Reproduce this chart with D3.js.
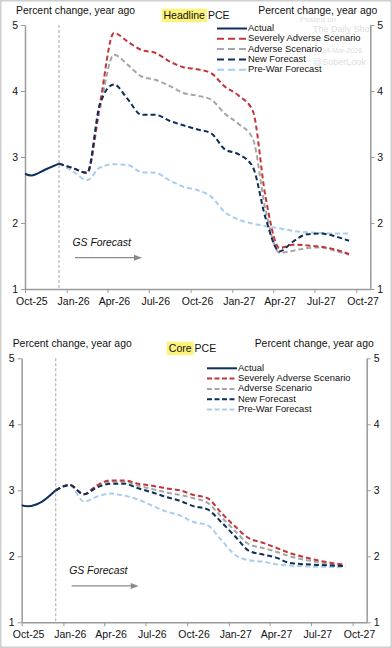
<!DOCTYPE html>
<html><head><meta charset="utf-8">
<script src="https://cdn.jsdelivr.net/npm/d3@7"></script>
<style>
html,body{margin:0;padding:0;background:#fff;}
svg{display:block;font-family:"Liberation Sans",Arial,sans-serif;}
</style></head>
<body><svg id="c" width="392" height="648"></svg>
<script>
// ---------- DATA ----------
const months = ["2025-09","2025-10","2025-11","2025-12","2026-01","2026-02","2026-03","2026-04","2026-05","2026-06","2026-07","2026-08","2026-09","2026-10","2026-11","2026-12","2027-01","2027-02","2027-03","2027-04","2027-05","2027-06","2027-07","2027-08","2027-09"];
const forecastStart = 3; // index of Dec-25
const seriesNames = ["Actual","Severely Adverse Scenario","Adverse Scenario","New Forecast","Pre-War Forecast"];
const xTickMonths = ["2025-10","2026-01","2026-04","2026-07","2026-10","2027-01","2027-04","2027-07","2027-10"];
const yTicks = [1,2,3,4,5];

// Headline PCE
const headlineActual   = [2.80, 2.72, 2.81, 2.90];
const headlineSevere   = [2.90,2.83,2.76,3.80,4.88,4.75,4.62,4.58,4.45,4.36,4.33,4.27,4.07,3.93,3.70,2.40,1.62,1.67,1.66,1.64,1.60,1.53];
const headlineAdverse  = [2.90,2.83,2.76,3.72,4.55,4.40,4.22,4.17,4.08,3.97,3.93,3.87,3.66,3.50,3.28,2.20,1.55,1.58,1.62,1.63,1.58,1.52];
const headlineNew      = [2.90,2.83,2.76,3.80,4.10,3.88,3.64,3.64,3.55,3.48,3.42,3.36,3.12,3.04,2.85,2.08,1.57,1.72,1.83,1.84,1.80,1.73];
const headlinePreWar   = [2.90,2.78,2.65,2.84,2.89,2.88,2.77,2.76,2.65,2.55,2.50,2.40,2.17,2.05,1.99,1.95,1.92,1.88,1.86,1.85,1.84,1.84];

// Core PCE
const coreActual  = [2.80, 2.76, 2.83, 3.00];
const coreSevere  = [3.00,3.08,2.94,3.07,3.15,3.15,3.10,3.07,3.03,3.00,2.93,2.88,2.66,2.45,2.27,2.21,2.13,2.05,1.99,1.94,1.90,1.87];
const coreAdverse = [3.00,3.08,2.94,3.06,3.13,3.13,3.07,3.02,2.97,2.93,2.88,2.81,2.60,2.38,2.18,2.13,2.07,2.00,1.95,1.91,1.88,1.85];
const coreNew     = [3.00,3.08,2.94,3.04,3.10,3.10,3.03,2.97,2.90,2.84,2.76,2.71,2.52,2.30,2.08,2.03,1.98,1.90,1.88,1.87,1.86,1.85];
const corePreWar  = [3.00,3.08,2.83,2.90,2.95,2.92,2.86,2.77,2.68,2.62,2.52,2.47,2.25,2.02,1.94,1.92,1.88,1.86,1.85,1.84,1.84,1.83];

// ---------- STYLE ----------
const colors = {actual:"#0c2f5c", severe:"#c1363a", adverse:"#a6a6a6", newf:"#0c2f5c", prewar:"#a9cdee"};
const axisColor = "#9a9a9a";
const parse = d3.timeParse("%Y-%m");
const mid = s => { const d = parse(s); return new Date(d.getFullYear(), d.getMonth(), 15); };
const fmt = d3.timeFormat("%b-%y");

const svg = d3.select("#c");
svg.append("rect").attr("x",0.75).attr("y",0.75).attr("width",390.5).attr("height",646.5)
  .attr("fill","none").attr("stroke","#cfcfcf").attr("stroke-width",1.5);

// watermark (faint, behind top chart)
const wm = svg.append("g").attr("fill","#dedede").attr("font-size","9px");
wm.append("text").attr("x",300).attr("y",22).attr("font-size","8px").text("Posted on");
wm.append("text").attr("x",313).attr("y",31.5).text("The Daily Shot");
wm.append("text").attr("x",322).attr("y",52.5).attr("font-size","7px").text("24-Mar-2026");
wm.append("text").attr("x",313).attr("y",64.5).text("@SoberLook");

function drawChart(cfg){
  const {x0,x1,yTop,yBot,id,title,actual,severe,adverse,newf,prewar,legendX,legendY,legendDash,labelY,titleY,gsY} = cfg;
  const g = svg.append("g");
  const x = d3.scaleTime().domain([new Date(2025,9,1), new Date(2027,10,1)]).range([x0,x1]);
  const y = d3.scaleLinear().domain([1,5]).range([yBot,yTop]);

  g.append("clipPath").attr("id","clip"+id).append("rect")
    .attr("x",x0).attr("y",yTop-10).attr("width",x1-x0).attr("height",yBot-yTop+20);

  // axes
  const xAxis = d3.axisBottom(x).tickValues(xTickMonths.map(parse)).tickFormat(fmt).tickSize(4).tickSizeOuter(0);
  const gx = g.append("g").attr("transform",`translate(0,${yBot})`).call(xAxis);
  gx.selectAll("text").attr("transform", d => `translate(${x(new Date(d.getFullYear(),d.getMonth(),15)) - x(d)},0)`)
    .attr("dy","0.95em").attr("y",6);
  const yL = d3.axisLeft(y).tickValues(yTicks).tickFormat(d3.format("d")).tickSize(4).tickSizeOuter(0);
  const gyl = g.append("g").attr("transform",`translate(${x0},0)`).call(yL);
  const yR = d3.axisRight(y).tickValues(yTicks).tickFormat(d3.format("d")).tickSize(4).tickSizeOuter(0);
  const gyr = g.append("g").attr("transform",`translate(${x1},0)`).call(yR);
  [gx,gyl,gyr].forEach(a=>{
    a.select(".domain").attr("stroke",axisColor).attr("stroke-width",1.5);
    a.selectAll(".tick line").attr("stroke",axisColor).attr("stroke-width",1);
    a.selectAll("text").attr("fill","#111").attr("font-size","10.5px").attr("font-family","Liberation Sans, Arial, sans-serif");
  });
  gyl.selectAll("text").attr("x",-7);
  gyr.selectAll("text").attr("x",7);

  // dashed forecast start line
  const xv = x(mid(months[forecastStart]));
  g.append("line").attr("x1",xv).attr("x2",xv).attr("y1",yTop).attr("y2",yBot)
    .attr("stroke","#b5b5b5").attr("stroke-width",1.2).attr("stroke-dasharray","3,2");

  // lines
  const line = d3.line().defined(d=>d.v!=null).x(d=>x(d.t)).y(d=>y(d.v)).curve(d3.curveMonotoneX);
  const toPts = (arr, start) => arr.map((v,i)=>({t:mid(months[start+i]), v}));
  const lg = g.append("g").attr("clip-path",`url(#clip${id})`);
  const series = [
    {data:toPts(prewar,forecastStart), c:colors.prewar, dash:"5,3"},
    {data:toPts(adverse,forecastStart), c:colors.adverse, dash:"5,3"},
    {data:toPts(severe,forecastStart), c:colors.severe, dash:"5,3"},
    {data:toPts(newf,forecastStart), c:colors.newf, dash:"5,3"},
    {data:toPts(actual,0), c:colors.actual, dash:null}
  ];
  series.forEach(s=>{
    lg.append("path").datum(s.data).attr("d",line).attr("fill","none")
      .attr("stroke",s.c).attr("stroke-width",2).attr("stroke-dasharray",s.dash);
  });

  // axis titles
  g.append("text").attr("x",x0-9).attr("y",labelY).attr("font-size","10.4px").attr("fill","#111")
    .attr("dominant-baseline","middle").text("Percent change, year ago");
  g.append("text").attr("x",x1+7).attr("y",labelY).attr("text-anchor","end").attr("font-size","10.4px").attr("fill","#111")
    .attr("dominant-baseline","middle").text("Percent change, year ago");

  // title with highlight
  const tg = g.append("g");
  const t1 = tg.append("text").attr("y",titleY).attr("font-size","10.5px").attr("fill","#111").attr("dominant-baseline","middle");
  t1.append("tspan").attr("class","hl").text(title);
  t1.append("tspan").text(" PCE");
  const bb = t1.node().getBBox();
  t1.attr("x", cfg.titleCx - bb.width/2);
  const w1 = t1.select(".hl").node().getComputedTextLength();
  tg.insert("rect","text").attr("x",cfg.titleCx - bb.width/2 - 2).attr("y",titleY-6.8).attr("width",w1+4).attr("height",13.4)
    .attr("fill","#fcf37a");

  // legend
  const legItems = [
    {n:seriesNames[0], c:colors.actual, dash:null},
    {n:seriesNames[1], c:colors.severe, dash:legendDash},
    {n:seriesNames[2], c:colors.adverse, dash:legendDash},
    {n:seriesNames[3], c:colors.newf, dash:legendDash},
    {n:seriesNames[4], c:colors.prewar, dash:legendDash}
  ];
  legItems.forEach((it,i)=>{
    const ly = legendY + i*10.3;
    g.append("line").attr("x1",legendX).attr("x2",legendX+30).attr("y1",ly).attr("y2",ly)
      .attr("stroke",it.c).attr("stroke-width",2).attr("stroke-dasharray",it.dash);
    g.append("text").attr("x",legendX+31).attr("y",ly).attr("dominant-baseline","middle")
      .attr("font-size","9.4px").attr("fill","#111").text(it.n);
  });

  // GS Forecast annotation
  g.append("text").attr("x",x0+47.5).attr("y",gsY).attr("dominant-baseline","middle").attr("font-style","italic")
    .attr("font-size","10.4px").attr("fill","#111").text("GS Forecast");
  const ax0 = x0 + 50;
  g.append("line").attr("x1",ax0).attr("x2",ax0+59).attr("y1",gsY+14.2).attr("y2",gsY+14.2)
    .attr("stroke","#8a8a8a").attr("stroke-width",1.2);
  g.append("path").attr("d",`M${ax0+67},${gsY+14.2} l-8,-3 l0,6 z`).attr("fill","#8a8a8a");
  return g;
}

drawChart({id:"h", x0:25, x1:370.3, yTop:25, yBot:289, title:"Headline",
  actual:headlineActual, severe:headlineSevere, adverse:headlineAdverse, newf:headlineNew, prewar:headlinePreWar,
  legendX:217, legendY:28.5, legendDash:"7,4", labelY:11.7, titleY:15.5, titleCx:196.5, gsY:243.5});

drawChart({id:"c", x0:21.7, x1:366.7, yTop:358.3, yBot:622.3, title:"Core",
  actual:coreActual, severe:coreSevere, adverse:coreAdverse, newf:coreNew, prewar:corePreWar,
  legendX:207, legendY:368.3, legendDash:"5,2.5", labelY:344.3, titleY:348.5, titleCx:192.5, gsY:571.7});
</script></body></html>
